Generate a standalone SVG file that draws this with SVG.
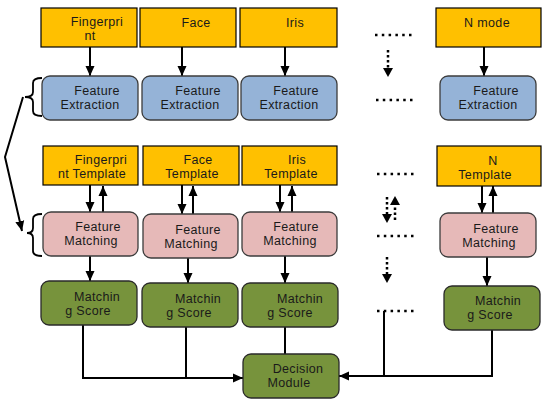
<svg xmlns="http://www.w3.org/2000/svg" width="545" height="405" viewBox="0 0 545 405">
<defs>
<marker id="ah" markerUnits="userSpaceOnUse" markerWidth="10" markerHeight="10" viewBox="0 0 10 10" refX="10" refY="5" orient="auto">
<path d="M0,0.5 L10,5 L0,9.5 Z" fill="#000"/>
</marker>
<style>
.y{fill:#FFC000;stroke:#000;stroke-width:1.2}
.b{fill:#95B3D7;stroke:#3c3c3c;stroke-width:1.3}
.p{fill:#E6B9B8;stroke:#3c3c3c;stroke-width:1.3}
.g{fill:#77933C;stroke:#2a2a2a;stroke-width:1.3}
text{font-family:"Liberation Sans",Arial,sans-serif;font-size:12.5px;letter-spacing:0.35px;fill:#1a1a1a;text-anchor:middle}
.c{fill:none;stroke:#000;stroke-width:2}
.a{fill:none;stroke:#000;stroke-width:2;marker-end:url(#ah)}
.d{fill:none;stroke:#000;stroke-width:2.5;stroke-dasharray:2.5 4.3}
.dv{fill:none;stroke:#000;stroke-width:2.5;stroke-dasharray:2.5 2.5}
.br{fill:none;stroke:#000;stroke-width:1.8}
</style>
</defs>

<g id="connectors">
<line class="a" x1="90" y1="47" x2="90" y2="76"/>
<line class="a" x1="182" y1="47" x2="182" y2="76"/>
<line class="a" x1="285" y1="47" x2="285" y2="76"/>
<line class="a" x1="484" y1="47" x2="484" y2="76"/>

<line class="a" x1="90" y1="185" x2="90" y2="212"/>
<line class="a" x1="103" y1="212" x2="103" y2="186"/>
<line class="a" x1="182" y1="185" x2="182" y2="214"/>
<line class="a" x1="193" y1="214" x2="193" y2="186"/>
<line class="a" x1="280" y1="185" x2="280" y2="212"/>
<line class="a" x1="292" y1="212" x2="292" y2="186"/>
<line class="a" x1="482" y1="186" x2="482" y2="213"/>
<line class="a" x1="493" y1="213" x2="493" y2="186"/>

<line class="a" x1="90" y1="256" x2="90" y2="281"/>
<line class="a" x1="188" y1="258" x2="188" y2="283"/>
<line class="a" x1="285" y1="256" x2="285" y2="283"/>
<line class="a" x1="487" y1="257" x2="487" y2="286"/>

<polyline class="a" points="83,325 83,378 243,378"/>
<line class="c" x1="186" y1="327" x2="186" y2="378"/>
<line class="c" x1="285" y1="327" x2="285" y2="354"/>
<polyline class="a" points="492,330 492,376 339,376"/>
<line class="c" x1="384" y1="311" x2="384" y2="376"/>

<line class="d" x1="375" y1="35" x2="412" y2="35"/>
<line class="d" x1="376" y1="100" x2="413" y2="100"/>
<line class="d" x1="377" y1="174" x2="414" y2="174"/>
<line class="d" x1="377" y1="236" x2="414" y2="236"/>
<line class="d" x1="377" y1="311" x2="414" y2="311"/>

<line class="dv" x1="388" y1="50" x2="388" y2="70"/>
<path d="M383,68 L393,68 L388,77 Z" fill="#000"/>
<line class="dv" x1="387" y1="197" x2="387" y2="216"/>
<path d="M382,214 L392,214 L387,223 Z" fill="#000"/>
<line class="dv" x1="395" y1="220" x2="395" y2="203"/>
<path d="M390,205 L400,205 L395,196 Z" fill="#000"/>
<line class="dv" x1="387" y1="257" x2="387" y2="276"/>
<path d="M382,274 L392,274 L387,283 Z" fill="#000"/>

<path class="br" d="M42,78 Q33,78 33,83 L33,92 Q33,97 25,97 Q33,97 33,102 L33,111 Q33,116 42,116"/>
<path class="br" d="M42,214 Q33,214 33,219 L33,228 Q33,233 27,233 Q33,233 33,238 L33,251 Q33,256 42,256"/>
<polyline class="a" points="23,97 5,157 22,231"/>
</g>

<g id="fingerprint"><rect class="y" x="41" y="8" width="96" height="39"/><text><tspan x="97" y="26">Fingerpri</tspan><tspan x="90" y="40">nt</tspan></text></g>
<g id="face"><rect class="y" x="140" y="8" width="96" height="39"/><text x="196" y="27">Face</text></g>
<g id="iris"><rect class="y" x="240" y="8" width="97" height="39"/><text x="295" y="27">Iris</text></g>
<g id="nmode"><rect class="y" x="436" y="8" width="105" height="39"/><text x="487" y="27">N mode</text></g>

<g id="fe1"><rect class="b" x="42" y="76" width="96" height="44" rx="8"/><text><tspan x="97" y="94.5">Feature</tspan><tspan x="90" y="108.5">Extraction</tspan></text></g>
<g id="fe2"><rect class="b" x="142" y="76" width="96" height="44" rx="8"/><text><tspan x="198" y="94.5">Feature</tspan><tspan x="190" y="108.5">Extraction</tspan></text></g>
<g id="fe3"><rect class="b" x="241" y="76" width="96" height="44" rx="8"/><text><tspan x="296" y="94.5">Feature</tspan><tspan x="289" y="108.5">Extraction</tspan></text></g>
<g id="fe4"><rect class="b" x="440" y="76" width="96" height="44" rx="8"/><text><tspan x="496" y="94.5">Feature</tspan><tspan x="488" y="108.5">Extraction</tspan></text></g>

<g id="t1"><rect class="y" x="43" y="146" width="95" height="39"/><text><tspan x="101" y="164">Fingerpri</tspan><tspan x="92" y="178">nt Template</tspan></text></g>
<g id="t2"><rect class="y" x="143" y="146" width="96" height="39"/><text><tspan x="198" y="164">Face</tspan><tspan x="192" y="178">Template</tspan></text></g>
<g id="t3"><rect class="y" x="242" y="146" width="95" height="39"/><text><tspan x="297" y="164">Iris</tspan><tspan x="291" y="178">Template</tspan></text></g>
<g id="t4"><rect class="y" x="437" y="146" width="104" height="40"/><text><tspan x="493" y="164.5">N</tspan><tspan x="485" y="178.5">Template</tspan></text></g>

<g id="fm1"><rect class="p" x="43" y="212" width="95" height="44" rx="8"/><text><tspan x="98" y="231">Feature</tspan><tspan x="91" y="245">Matching</tspan></text></g>
<g id="fm2"><rect class="p" x="143" y="214" width="95" height="44" rx="8"/><text><tspan x="198" y="233.5">Feature</tspan><tspan x="191" y="247.5">Matching</tspan></text></g>
<g id="fm3"><rect class="p" x="242" y="212" width="95" height="44" rx="8"/><text><tspan x="296" y="231">Feature</tspan><tspan x="290" y="245">Matching</tspan></text></g>
<g id="fm4"><rect class="p" x="440" y="213" width="96" height="44" rx="8"/><text><tspan x="496" y="232.5">Feature</tspan><tspan x="489" y="246.5">Matching</tspan></text></g>

<g id="ms1"><rect class="g" x="41" y="281" width="96" height="44" rx="8"/><text><tspan x="97" y="301">Matchin</tspan><tspan x="88" y="315">g Score</tspan></text></g>
<g id="ms2"><rect class="g" x="142" y="283" width="96" height="44" rx="8"/><text><tspan x="198" y="303">Matchin</tspan><tspan x="189" y="317">g Score</tspan></text></g>
<g id="ms3"><rect class="g" x="242" y="283" width="96" height="44" rx="8"/><text><tspan x="300" y="303">Matchin</tspan><tspan x="290" y="317">g Score</tspan></text></g>
<g id="ms4"><rect class="g" x="444" y="286" width="96" height="44" rx="8"/><text><tspan x="498" y="305">Matchin</tspan><tspan x="490" y="319">g Score</tspan></text></g>

<g id="decision"><rect class="g" x="243" y="354" width="96" height="44" rx="8"/><text><tspan x="298" y="372.5">Decision</tspan><tspan x="289" y="386.5">Module</tspan></text></g>
</svg>
